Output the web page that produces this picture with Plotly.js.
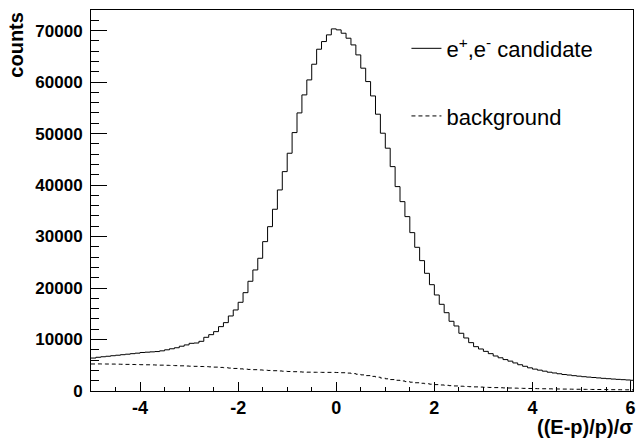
<!DOCTYPE html>
<html>
<head>
<meta charset="utf-8">
<script src="https://cdn.plot.ly/plotly-3.0.1.min.js"></script>
<style>html,body{margin:0;padding:0;background:#fff;}#chart{width:639px;height:439px;}</style>
</head>
<body>
<div id="chart"></div>
<script>
// Histogram binning: 0.1 wide bins starting at -5.0 (last bin 6.0-6.1)
const binStart = -5.0;
const binWidth = 0.1;

// e+,e- candidate counts per bin
const candidateCounts = [
  6400, 6550, 6650, 6750, 6850, 6950, 7050, 7150, 7250, 7350,
  7480, 7540, 7600, 7660, 7800, 8000, 8200, 8400, 8700, 8950,
  9260, 9320, 9650, 10430, 10940, 11530, 12500, 13280, 14570, 15740,
  17230, 19100, 21310, 23510, 25780, 29010, 31920, 35300, 39050, 42610,
  46180, 50190, 54010, 57510, 60420, 63470, 66380, 67870, 69170, 70330,
  70140, 69490, 68520, 67220, 65280, 62700, 60100, 57310, 53760, 50070,
  47160, 43580, 39700, 36780, 33870, 30760, 27910, 25320, 22860, 20650,
  18650, 16840, 15210, 13540, 12630, 11210, 10300, 9390, 8610, 8160,
  7700, 7250, 6800, 6450, 6100, 5800, 5450, 5100, 4800, 4500,
  4250, 4050, 3850, 3650, 3500, 3350, 3200, 3100, 2980, 2880,
  2780, 2700, 2620, 2540, 2460, 2390, 2320, 2260, 2200, 2140, 2080
];

// background counts per bin
const backgroundCounts = [
  5250, 5260, 5250, 5240, 5230, 5210, 5190, 5170, 5150, 5130,
  5110, 5090, 5070, 5050, 5020, 4990, 4960, 4930, 4890, 4850,
  4820, 4790, 4760, 4730, 4690, 4640, 4580, 4520, 4450, 4380,
  4300, 4240, 4190, 4140, 4090, 4040, 3990, 3940, 3890, 3840,
  3790, 3750, 3710, 3680, 3660, 3640, 3630, 3620, 3620, 3610,
  3590, 3550, 3480, 3380, 3260, 3130, 2990, 2840, 2680, 2520,
  2370, 2220, 2080, 1950, 1830, 1710, 1600, 1500, 1410, 1320,
  1240, 1170, 1100, 1040, 980, 930, 880, 840, 800, 760,
  720, 690, 660, 630, 600, 580, 555, 530, 510, 490,
  470, 450, 435, 420, 400, 390, 375, 360, 350, 335,
  325, 310, 300, 290, 280, 270, 260, 250, 240, 230, 220
];

const xTickVals = [-4, -2, 0, 2, 4, 6];
const yTickVals = [0, 10000, 20000, 30000, 40000, 50000, 60000, 70000];
const legendNames = ["e<sup>+</sup>,e<sup>-</sup> candidate", "background"];
const xTitle = "((E-p)/p)/σ";
const yTitle = "counts";

function stepXY(vals) {
  const xs = [], ys = [];
  for (let i = 0; i < vals.length; i++) {
    xs.push(+(binStart + i * binWidth).toFixed(3));
    ys.push(vals[i]);
  }
  xs.push(+(binStart + vals.length * binWidth).toFixed(3));
  ys.push(vals[vals.length - 1]);
  return {xs, ys};
}

const cand = stepXY(candidateCounts);
const bkg = stepXY(backgroundCounts);
const lastEdge = +(binStart + (candidateCounts.length - 1) * binWidth).toFixed(3);

const font = "Liberation Sans, Arial, Helvetica, sans-serif";

const traces = [
  {x: cand.xs, y: cand.ys, type: 'scatter', mode: 'lines', line: {shape: 'hv', color: '#000', width: 1},
   name: legendNames[0], legendgroup: 'a'},
  {x: bkg.xs, y: bkg.ys, type: 'scatter', mode: 'lines', line: {shape: 'hv', color: '#000', width: 1, dash: '4px,3px'},
   name: legendNames[1], legendgroup: 'b'},
  {x: [lastEdge, lastEdge], y: [0, candidateCounts[candidateCounts.length - 1]], type: 'scatter', mode: 'lines',
   line: {color: '#000', width: 1}, showlegend: false, hoverinfo: 'skip'}
];

const layout = {
  width: 639, height: 439,
  margin: {l: 91, r: 6, t: 10, b: 48},
  paper_bgcolor: '#fff', plot_bgcolor: '#fff',
  font: {family: font, color: '#000'},
  showlegend: true,
  legend: {x: 0.582, y: 0.954, xanchor: 'left', yanchor: 'top', bgcolor: 'rgba(0,0,0,0)', borderwidth: 0,
           font: {family: font, size: 22, color: '#000'}, traceorder: 'grouped', tracegroupgap: 36},
  xaxis: {range: [-5, 6.05], showgrid: false, zeroline: false, showline: true, linecolor: '#000', linewidth: 1, mirror: true,
          ticks: 'inside', ticklen: 9, tickwidth: 1, tickcolor: '#000', tickvals: xTickVals, ticktext: xTickVals.map(String),
          tickfont: {family: font, size: 18, color: '#000', weight: 'bold'}, ticklabelstandoff: 0,
          minor: {dtick: 0.5, tick0: 0, ticks: 'inside', ticklen: 4, tickcolor: '#000', tickwidth: 1}},
  yaxis: {range: [0, 74000], showgrid: false, zeroline: false, showline: true, linecolor: '#000', linewidth: 1, mirror: true,
          ticks: 'inside', ticklen: 16, tickwidth: 1, tickcolor: '#000', tickvals: yTickVals, ticktext: yTickVals.map(String),
          tickfont: {family: font, size: 17, color: '#000', weight: 'bold'}, ticklabelstandoff: 4,
          minor: {dtick: 2000, tick0: 0, ticks: 'inside', ticklen: 8, tickcolor: '#000', tickwidth: 1}},
  annotations: [
    {text: '<b>' + yTitle + '</b>', xref: 'paper', yref: 'paper', x: -0.139, y: 1, xanchor: 'center', yanchor: 'top',
     textangle: -90, showarrow: false, font: {family: font, size: 20, color: '#000'}},
    {text: '<b>' + xTitle + '</b>', xref: 'paper', yref: 'paper', x: 1.004, y: -0.06, xanchor: 'right', yanchor: 'top',
     showarrow: false, font: {family: font, size: 20, color: '#000'}}
  ]
};

Plotly.newPlot('chart', traces, layout, {staticPlot: true, displayModeBar: false});
</script>
</body>
</html>
